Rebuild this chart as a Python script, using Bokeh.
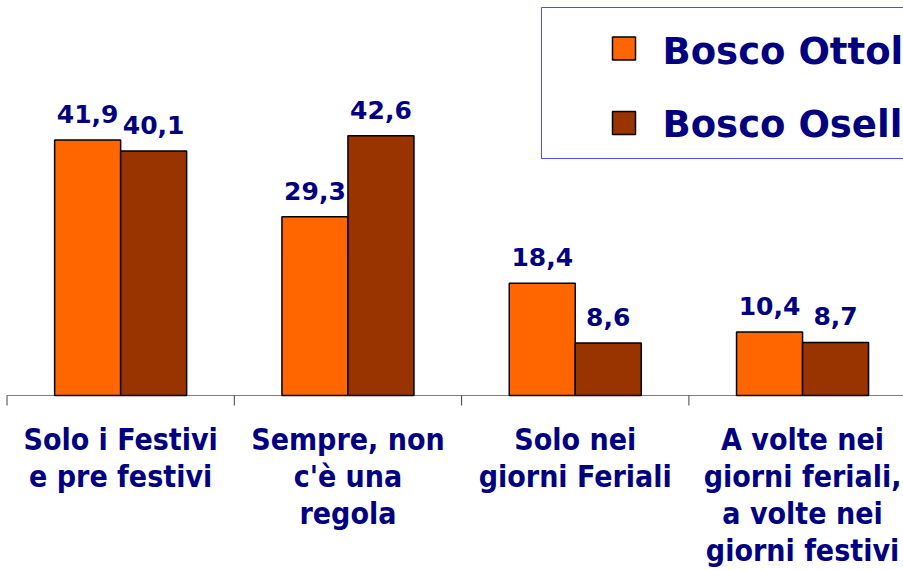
from bokeh.plotting import figure
from bokeh.models import Range1d
from bokeh.core.properties import value
from bokeh.embed import file_html
from bokeh.resources import INLINE

# ---- data ----
categories = [
    "Solo i Festivi\ne pre festivi",
    "Sempre, non\nc'è una\nregola",
    "Solo nei\ngiorni Feriali",
    "A volte nei\ngiorni feriali,\na volte nei\ngiorni festivi",
]
series_names = ["Bosco Ottol", "Bosco Osell"]
ottol = [41.9, 29.3, 18.4, 10.4]
osell = [40.1, 42.6, 8.6, 8.7]

# ---- style / layout ----
ORANGE = "#FF6600"
BROWN = "#993300"
NAVY = "#000080"
W, H = 903, 570
X0_PX = 6.5      # px of first category boundary
CAT_PX = 227.3   # px per category
ZERO_PX = 395.0  # px of value 0
UNIT_PX = 6.1    # px per value unit


def fx(px):
    return (px - X0_PX) / CAT_PX


def fy(py):
    return (ZERO_PX - py) / UNIT_PX


x_start, x_end = fx(0), fx(W)
y_start, y_end = fy(H), fy(0)

p = figure(width=W, height=H, x_range=Range1d(x_start, x_end),
           y_range=Range1d(y_start, y_end), output_backend="svg",
           toolbar_location=None, x_axis_type=None, y_axis_type=None,
           min_border=0, outline_line_color=None)
p.background_fill_color = "white"
p.border_fill_color = "white"

n = len(categories)
centers = [i + 0.5 for i in range(n)]
bw = 66 / CAT_PX

# axis line and ticks
p.segment(x0=[0], y0=[0], x1=[n + 1], y1=[0], line_color="#808080", line_width=1)
bounds = list(range(n + 1))
tick_len = 10 / UNIT_PX
p.segment(x0=bounds, y0=[0] * len(bounds), x1=bounds, y1=[-tick_len] * len(bounds),
          line_color="#404040", line_width=1)

# bars
x_ott = [c - bw / 2 for c in centers]
x_ose = [c + bw / 2 for c in centers]
p.vbar(x=x_ott, top=ottol, bottom=0, width=bw, fill_color=ORANGE,
       line_color="black", line_width=1.5)
p.vbar(x=x_ose, top=osell, bottom=0, width=bw, fill_color=BROWN,
       line_color="black", line_width=1.5)


def fmt(v):
    return f"{v:.1f}".replace(".", ",")


label_style = dict(text_align="center", text_baseline="alphabetic", y_offset=-26,
                   text_font=value("DejaVu Sans"), text_font_style="bold",
                   text_font_size="25px", text_color=NAVY)
p.text(x=x_ott, y=ottol, text=[fmt(v) for v in ottol], **label_style)
p.text(x=x_ose, y=osell, text=[fmt(v) for v in osell], **label_style)

# category labels
p.text(x=centers, y=[0] * n, text=categories, text_align="center",
       text_baseline="top", y_offset=26,
       text_font=value("DejaVu Sans Condensed, DejaVu Sans"), text_font_style="bold",
       text_font_size="30px", text_line_height=1.06, text_color=NAVY)

# legend (drawn manually, cropped at right like the reference)
p.quad(left=[fx(541)], right=[fx(980)], top=[fy(7)], bottom=[fy(158)],
       fill_color=None, line_color="#4B4BFF", line_width=1)
p.rect(x=[fx(623.5)] * 2, y=[fy(48), fy(122.5)], width=23, height=23,
       width_units="screen", height_units="screen",
       fill_color=[ORANGE, BROWN], line_color="black", line_width=1.5)
p.text(x=[fx(662)] * 2, y=[fy(51), fy(124)], text=series_names,
       text_align="left", text_baseline="alphabetic",
       text_font=value("DejaVu Sans"), text_font_style="bold",
       text_font_size="37px", text_color=NAVY)

open("out.html", "w").write(file_html(p, INLINE))
